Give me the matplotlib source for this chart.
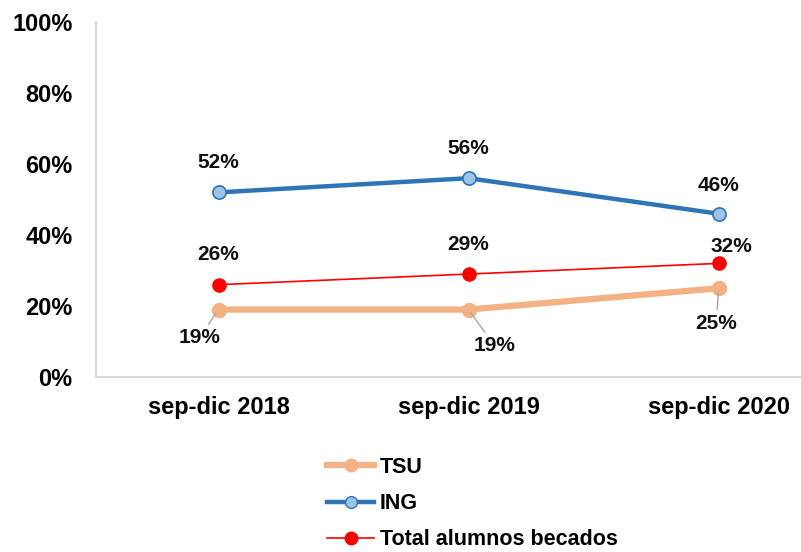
import matplotlib
matplotlib.use("Agg")
import matplotlib.pyplot as plt
from matplotlib.lines import Line2D

plt.rcParams["font.family"] = ["Liberation Sans", "DejaVu Sans"]
plt.rcParams["font.weight"] = "bold"

periods = ["sep-dic 2018", "sep-dic 2019", "sep-dic 2020"]
tsu = [0.19, 0.19, 0.25]
ing = [0.52, 0.56, 0.46]
total = [0.26, 0.29, 0.32]
y_ticks = [0, 0.2, 0.4, 0.6, 0.8, 1.0]

# label offsets in pixels (dx, dy) per point
tsu_off = [(-19, -28), (26, -36), (-2, -35)]
ing_off = [(0, 30), (0, 30), (0, 28)]
tot_off = [(0, 30), (0, 30), (13, 17)]

C_TSU = "#F4B183"
C_ING = "#2E75B6"
C_ING_FILL = "#9DC3E6"
C_TOT = "#FF0000"

fig = plt.figure(figsize=(8.01, 5.52), dpi=100)
W, H = 801, 552
ax = fig.add_axes([96 / W, 1 - 377 / H, (801 - 96) / W, (377 - 22) / H])

x = list(range(len(periods)))
ax.plot(x, tsu, color=C_TSU, lw=4.5, marker="o", ms=10, mfc=C_TSU, mec=C_TSU, zorder=3)
ax.plot(x, ing, color=C_ING, lw=3.2, marker="o", ms=9.5, mfc=C_ING_FILL, mec=C_ING, mew=1.2, zorder=3)
ax.plot(x, total, color=C_TOT, lw=1.2, marker="o", ms=9.5, mfc=C_TOT, mec=C_TOT, zorder=4)

for xi, v, off in zip(x, ing, ing_off):
    ax.annotate(f"{v:.0%}", (xi, v), xytext=off, textcoords="offset pixels",
                ha="center", va="center", fontsize=15, color="#111")
for xi, v, off in zip(x, total, tot_off):
    ax.annotate(f"{v:.0%}", (xi, v), xytext=off, textcoords="offset pixels",
                ha="center", va="center", fontsize=15, color="#111")
for xi, v, off in zip(x, tsu, tsu_off):
    ax.annotate(f"{v:.0%}", (xi, v), xytext=off, textcoords="offset pixels",
                ha="center", va="center", fontsize=15, color="#111",
                arrowprops=dict(arrowstyle="-", color="#A6A6A6", lw=1, shrinkA=1, shrinkB=3))

ax.set_xlim(-0.49, 2.33)
ax.set_ylim(0, 1)
ax.set_xticks(x)
ax.set_xticklabels(periods, fontsize=17)
ax.set_yticks(y_ticks)
ax.set_yticklabels([f"{t:.0%}" for t in y_ticks], fontsize=17)
ax.tick_params(length=0)
ax.tick_params(axis="y", pad=17)
ax.tick_params(axis="x", pad=14)
for s in ["top", "right"]:
    ax.spines[s].set_visible(False)
for s in ["left", "bottom"]:
    ax.spines[s].set_color("#D9D9D9")
    ax.spines[s].set_linewidth(1.5)

handles = [
    Line2D([], [], color=C_TSU, lw=4.5, marker="o", ms=9, mfc=C_TSU, mec=C_TSU),
    Line2D([], [], color=C_ING, lw=3.2, marker="o", ms=8.5, mfc=C_ING_FILL, mec=C_ING),
    Line2D([], [], color=C_TOT, lw=1.2, marker="o", ms=9, mfc=C_TOT, mec=C_TOT),
]
fig.legend(handles, ["TSU", "ING", "Total alumnos becados"], loc="upper left",
           bbox_to_anchor=(327 / W, 1 - 457 / H), frameon=False, fontsize=15.5,
           handlelength=2.2, handletextpad=0.25, labelspacing=0.7,
           borderpad=0, borderaxespad=0)

fig.savefig("out.png", dpi=100, facecolor="white")
